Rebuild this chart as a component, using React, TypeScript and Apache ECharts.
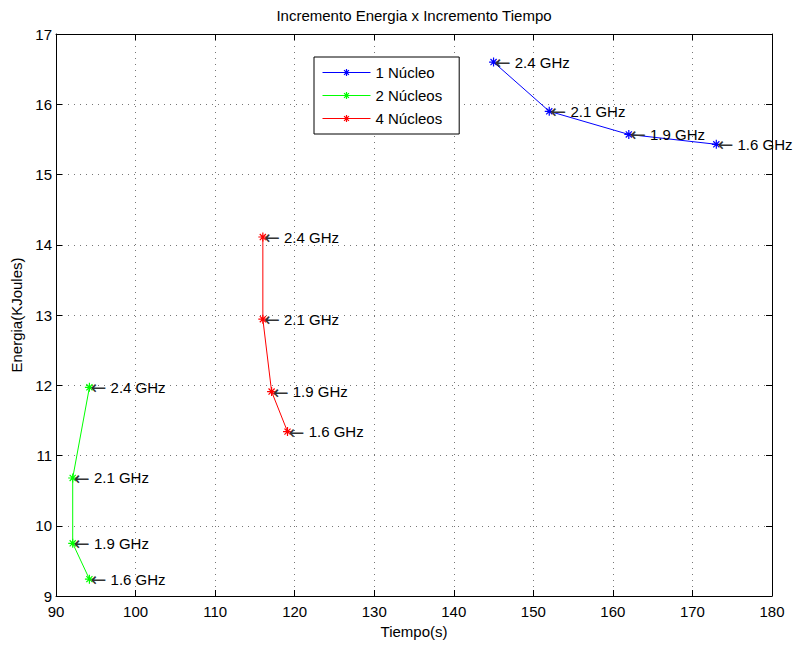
import React, { useEffect, useRef } from "react";
import * as echarts from "echarts";

const freqLabels = ["2.4 GHz", "2.1 GHz", "1.9 GHz", "1.6 GHz"];
const tiempo1 = [145, 152, 162, 173];
const energia1 = [16.6, 15.9, 15.57, 15.43];
const tiempo2 = [94.2, 92.1, 92.1, 94.2];
const energia2 = [11.97, 10.68, 9.75, 9.24];
const tiempo4 = [116, 116, 117.1, 119.1];
const energia4 = [14.11, 12.94, 11.91, 11.34];
const seriesNames = ["1 Núcleo", "2 Núcleos", "4 Núcleos"];
const seriesColors = ["#0000ff", "#00ff00", "#ff0000"];
const xTicks = { min: 90, max: 180, interval: 10 };
const yTicks = { min: 9, max: 17, interval: 1 };

const ASTERISK =
  "path://M5 0L5 10M0 5L10 5M1.6 1.6L8.4 8.4M8.4 1.6L1.6 8.4";

const FONT = "Liberation Sans, Arial, sans-serif";

function build(xs: number[], ys: number[]) {
  return xs.map((x, i) => ({ value: [x, ys[i]], name: freqLabels[i] }));
}

export default function App() {
  const ref = useRef<HTMLDivElement>(null);
  useEffect(() => {
    if (!ref.current) return;
    const chart = echarts.init(ref.current, undefined, { renderer: "svg" });
    const datasets = [
      build(tiempo1, energia1),
      build(tiempo2, energia2),
      build(tiempo4, energia4),
    ];
    const series = datasets.map((d, i) => ({
      type: "line",
      name: seriesNames[i],
      data: d,
      symbol: ASTERISK,
      symbolSize: 9,
      showAllSymbol: true,
      lineStyle: { color: seriesColors[i], width: 1 },
      itemStyle: {
        color: seriesColors[i],
        borderColor: seriesColors[i],
        borderWidth: 1.2,
      },
      emphasis: { disabled: true },
      label: {
        show: true,
        position: "right",
        distance: -4,
        color: "#000",
        fontFamily: FONT,
        fontSize: 15,
        formatter: (p: any) => `{arr|←} ${p.name}`,
        rich: {
          arr: {
            fontFamily: "DejaVu Sans",
            fontSize: 19,
            color: "#333",
          },
        },
      },
      z: 3,
    }));

    const axisCommon = {
      type: "value",
      axisLine: { show: true, lineStyle: { color: "#000", width: 1 } },
      axisTick: { show: true, inside: true, length: 6, lineStyle: { color: "#000" } },
    };

    chart.setOption({
      animation: false,
      backgroundColor: "#fff",
      grid: { left: 56, right: 26, top: 34, bottom: 49, containLabel: false },
      graphic: [
        {
          type: "text",
          x: 414,
          y: 15,
          style: {
            text: "Incremento Energia x Incremento Tiempo",
            fontFamily: FONT,
            fontSize: 15,
            fill: "#000",
            align: "center",
            verticalAlign: "middle",
          },
        },
      ],
      legend: {
        show: true,
        orient: "vertical",
        left: 314,
        top: 57,
        data: seriesNames,
        backgroundColor: "#fff",
        borderColor: "#000",
        borderWidth: 1,
        padding: [8, 17, 8, 8],
        itemWidth: 48,
        itemHeight: 9,
        itemGap: 8,
        lineStyle: { width: 1 },
        itemStyle: { borderWidth: 1.2 },
        textStyle: { fontFamily: FONT, fontSize: 15, color: "#000", lineHeight: 15 },
        selectedMode: false,
      },
      xAxis: [
        {
          ...axisCommon,
          position: "bottom",
          ...xTicks,
          name: "Tiempo(s)",
          nameLocation: "middle",
          nameGap: 28,
          nameTextStyle: { fontFamily: FONT, fontSize: 15, color: "#000" },
          axisLabel: { fontFamily: FONT, fontSize: 15, color: "#000", margin: 8 },
          splitLine: {
            show: true,
            lineStyle: { color: "#777", type: [1, 5], width: 1 },
          },
        },
        {
          ...axisCommon,
          position: "top",
          ...xTicks,
          axisLabel: { show: false },
          splitLine: { show: false },
        },
      ],
      yAxis: [
        {
          ...axisCommon,
          position: "left",
          ...yTicks,
          name: "Energia(KJoules)",
          nameLocation: "middle",
          nameGap: 31,
          nameTextStyle: { fontFamily: FONT, fontSize: 15, color: "#000" },
          axisLabel: { fontFamily: FONT, fontSize: 15, color: "#000", margin: 4 },
          splitLine: {
            show: true,
            lineStyle: { color: "#777", type: [1, 5], width: 1 },
          },
        },
        {
          ...axisCommon,
          position: "right",
          ...yTicks,
          axisLabel: { show: false },
          splitLine: { show: false },
        },
      ],
      series,
    });
    return () => chart.dispose();
  }, []);
  return (
    <div
      ref={ref}
      style={{ position: "fixed", left: 0, top: 0, width: 798, height: 645 }}
    />
  );
}
